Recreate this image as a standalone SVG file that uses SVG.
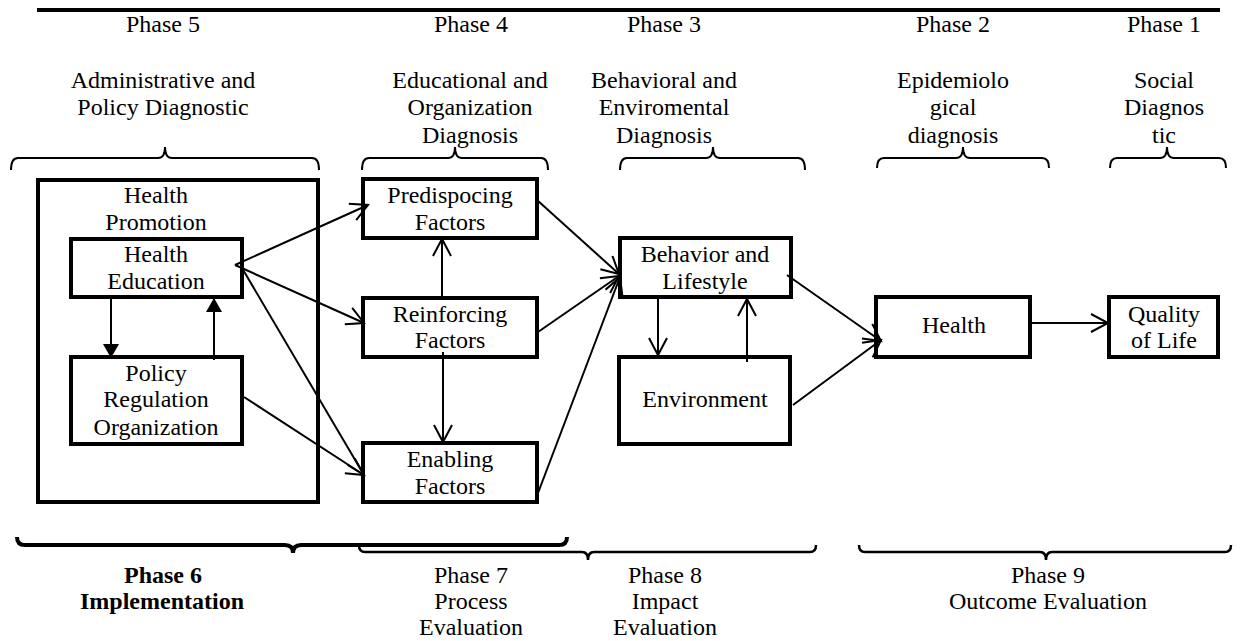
<svg xmlns="http://www.w3.org/2000/svg" width="1240" height="641" viewBox="0 0 1240 641">
<style>
text{font-family:"Liberation Serif","Times New Roman",serif;font-size:24px;fill:#000;text-anchor:middle}
.b{font-weight:bold}
.box{fill:none;stroke:#000;stroke-width:4}
.c{fill:none;stroke:#000;stroke-width:2}
.br{fill:none;stroke:#000;stroke-width:2}
</style>
<defs>
<marker id="v" markerWidth="22" markerHeight="22" refX="18" refY="10" orient="auto" markerUnits="userSpaceOnUse"><path d="M1,1 L18,10 L1,19" fill="none" stroke="#000" stroke-width="2"/></marker>
<marker id="t" markerWidth="18" markerHeight="18" refX="14" refY="8" orient="auto" markerUnits="userSpaceOnUse"><path d="M0,0 L14,8 L0,16 Z" fill="#000"/></marker>
</defs>
<rect width="1240" height="641" fill="#fff"/>
<line x1="37" y1="10" x2="1220" y2="10" stroke="#000" stroke-width="4"/>
<g id="headers">
<text x="163" y="32">Phase 5</text>
<text x="471" y="32">Phase 4</text>
<text x="664" y="32">Phase 3</text>
<text x="953" y="32">Phase 2</text>
<text x="1164" y="32">Phase 1</text>
<text x="163" y="88">Administrative and</text>
<text x="163" y="115">Policy Diagnostic</text>
<text x="470" y="88">Educational and</text>
<text x="470" y="115">Organization</text>
<text x="470" y="143">Diagnosis</text>
<text x="664" y="88">Behavioral and</text>
<text x="664" y="115">Enviromental</text>
<text x="664" y="143">Diagnosis</text>
<text x="953" y="88">Epidemiolo</text>
<text x="953" y="115">gical</text>
<text x="953" y="143">diagnosis</text>
<text x="1164" y="88">Social</text>
<text x="1164" y="115">Diagnos</text>
<text x="1164" y="143">tic</text>
</g>
<g id="top-braces">
<path class="br" d="M11,170 Q11,158 18,158 L158,158 Q165,158 165,147 Q165,158 172,158 L312,158 Q319,158 319,170"/>
<path class="br" d="M362,170 Q362,158 369,158 L448,158 Q455,158 455,147 Q455,158 462,158 L541,158 Q548,158 548,170"/>
<path class="br" d="M620,170 Q620,158 627,158 L706,158 Q713,158 713,147 Q713,158 720,158 L798,158 Q805,158 805,170"/>
<path class="br" d="M877,168 Q877,158 884,158 L956,158 Q963,158 963,147 Q963,158 970,158 L1042,158 Q1049,158 1049,168"/>
<path class="br" d="M1110,168 Q1110,158 1117,158 L1160,158 Q1167,158 1167,147 Q1167,158 1174,158 L1219,158 Q1226,158 1226,168"/>
</g>
<g id="health-promotion">
<rect class="box" x="38" y="180" width="280" height="322"/>
<text x="156" y="203">Health</text>
<text x="156" y="230">Promotion</text>
</g>
<g id="health-education">
<rect class="box" x="71" y="239" width="171" height="58"/>
<text x="156" y="262">Health</text>
<text x="156" y="289">Education</text>
</g>
<g id="policy">
<rect class="box" x="71" y="357" width="171" height="87"/>
<text x="156" y="381">Policy</text>
<text x="156" y="407">Regulation</text>
<text x="156" y="435">Organization</text>
</g>
<g id="predisposing">
<rect class="box" x="363" y="179" width="174" height="59"/>
<text x="450" y="203">Predispocing</text>
<text x="450" y="230">Factors</text>
</g>
<g id="reinforcing">
<rect class="box" x="363" y="298" width="174" height="59"/>
<text x="450" y="322">Reinforcing</text>
<text x="450" y="348">Factors</text>
</g>
<g id="enabling">
<rect class="box" x="363" y="443" width="174" height="59"/>
<text x="450" y="467">Enabling</text>
<text x="450" y="494">Factors</text>
</g>
<g id="behavior">
<rect class="box" x="620" y="238" width="171" height="59"/>
<text x="705" y="262">Behavior and</text>
<text x="705" y="289">Lifestyle</text>
</g>
<g id="environment">
<rect class="box" x="619" y="357" width="171" height="87"/>
<text x="705" y="407">Environment</text>
</g>
<g id="health">
<rect class="box" x="876" y="297" width="154" height="60"/>
<text x="954" y="333">Health</text>
</g>
<g id="quality">
<rect class="box" x="1109" y="297" width="109" height="60"/>
<text x="1164" y="322">Quality</text>
<text x="1164" y="348">of Life</text>
</g>
<g id="connectors">
<line class="c" x1="235" y1="265" x2="368" y2="205" marker-end="url(#v)"/>
<line class="c" x1="235" y1="265" x2="364" y2="323" marker-end="url(#v)"/>
<line class="c" x1="242" y1="268" x2="364" y2="475" marker-end="url(#v)"/>
<line class="c" x1="244" y1="397" x2="364" y2="475" marker-end="url(#v)"/>
<line class="c" x1="442" y1="298" x2="442" y2="239" marker-end="url(#v)"/>
<line class="c" x1="443" y1="352" x2="443" y2="442" marker-end="url(#v)"/>
<line class="c" x1="537" y1="200" x2="619" y2="274" marker-end="url(#v)"/>
<line class="c" x1="538" y1="332" x2="619" y2="276" marker-end="url(#v)"/>
<line class="c" x1="538" y1="493" x2="620" y2="277" marker-end="url(#v)"/>
<line class="c" x1="658" y1="297" x2="658" y2="355" marker-end="url(#v)"/>
<line class="c" x1="747" y1="362" x2="747" y2="299" marker-end="url(#v)"/>
<line class="c" x1="787" y1="275" x2="881" y2="341" marker-end="url(#v)"/>
<line class="c" x1="793" y1="405" x2="881" y2="340" marker-end="url(#v)"/>
<line class="c" x1="1030" y1="323" x2="1108" y2="323" marker-end="url(#v)"/>
<line class="c" x1="111" y1="297" x2="111" y2="358" marker-end="url(#t)"/>
<line class="c" x1="214" y1="360" x2="214" y2="298" marker-end="url(#t)"/>
</g>
<g id="bottom-braces">
<path fill="none" stroke="#000" stroke-width="2.5" d="M359,545 Q359,552 365,552 L582,552 Q588,552 588,560 Q588,552 594,552 L810,552 Q816,552 816,545"/>
<path fill="none" stroke="#000" stroke-width="4" d="M17,537 Q17,545 25,545 L285,545 Q293,545 293,553 Q293,545 301,545 L559,545 Q567,545 567,537"/>
<path fill="none" stroke="#000" stroke-width="2.5" d="M859,545 Q859,552 865,552 L1040,552 Q1046,552 1046,560 Q1046,552 1052,552 L1225,552 Q1231,552 1231,545"/>
</g>
<g id="footers">
<text class="b" x="163" y="583">Phase 6</text>
<text class="b" x="162" y="609">Implementation</text>
<text x="471" y="583">Phase 7</text>
<text x="471" y="609">Process</text>
<text x="471" y="635">Evaluation</text>
<text x="665" y="583">Phase 8</text>
<text x="665" y="609">Impact</text>
<text x="665" y="635">Evaluation</text>
<text x="1048" y="583">Phase 9</text>
<text x="1048" y="609">Outcome Evaluation</text>
</g>
</svg>
